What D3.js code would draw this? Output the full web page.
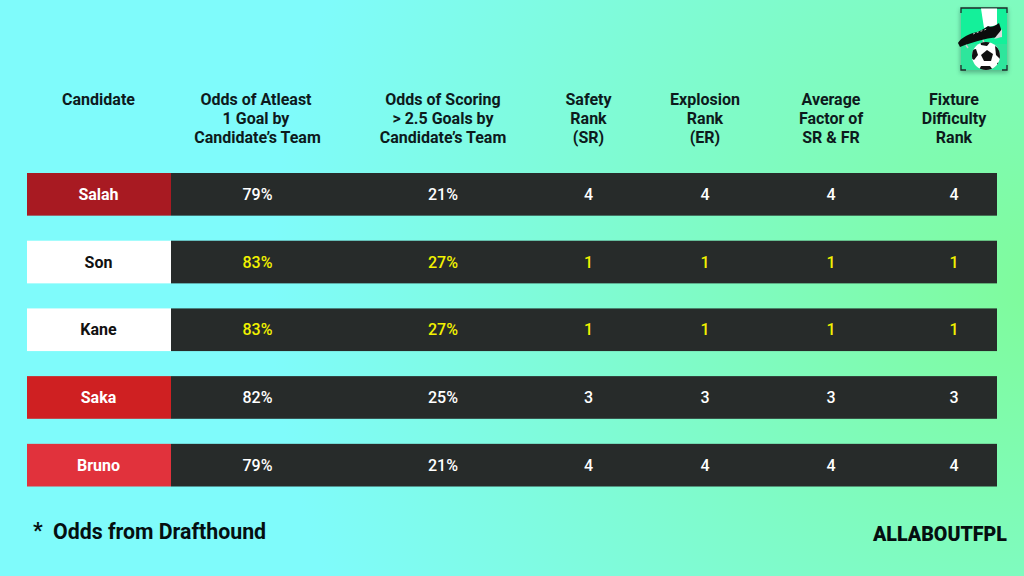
<!DOCTYPE html>
<html>
<head>
<meta charset="utf-8">
<script src="https://cdn.jsdelivr.net/npm/d3@7/dist/d3.min.js"></script>
<style>
	html, body { margin: 0; padding: 0; overflow: hidden; }
	svg { display: block; }
	text { font-family: Roboto, sans-serif; text-anchor: middle; }
</style>
</head>
<body>
<script>
const candidates = ['Salah', 'Son', 'Kane', 'Saka', 'Bruno'];
const candidateColors = ['#a81a22', '#ffffff', '#ffffff', '#cf2022', '#e1323c'];
const candidateText = ['#ffffff', '#111111', '#111111', '#ffffff', '#ffffff'];

const oneGoalOdds = [79, 83, 83, 82, 79];
const overGoalsOdds = [21, 27, 27, 25, 21];
const safetyRank = [4, 1, 1, 3, 4];
const explosionRank = [4, 1, 1, 3, 4];
const averageFactor = [4, 1, 1, 3, 4];
const fixtureRank = [4, 1, 1, 3, 4];

const columnKeys = ['candidate', 'oneGoal', 'overGoals', 'safety', 'explosion', 'average', 'fixture'];
const columnHeaders = [
	['Candidate'],
	['Odds of Atleast', '1 Goal by', 'Candidate\u2019s Team'],
	['Odds of Scoring', '> 2.5 Goals by', 'Candidate\u2019s Team'],
	['Safety', 'Rank', '(SR)'],
	['Explosion', 'Rank', '(ER)'],
	['Average', 'Factor of', 'SR & FR'],
	['Fixture', 'Difficulty', 'Rank']
];

const width = 1024;
const height = 576;
const highlight = '#f2f200';

const svg = d3.select('body').append('svg')
	.attr('width', width)
	.attr('height', height);

const defs = svg.append('defs');

// background, greenest around the right edge
const grad = defs.append('radialGradient')
	.attr('id', 'bg')
	.attr('gradientUnits', 'userSpaceOnUse')
	.attr('cx', 1040).attr('cy', 290)
	.attr('r', 770);
grad.append('stop').attr('offset', '0%').attr('stop-color', '#7ffb9b');
grad.append('stop').attr('offset', '100%').attr('stop-color', '#7ffbfb');

defs.append('filter').attr('id', 'soft')
	.append('feGaussianBlur').attr('stdDeviation', 2);

defs.append('clipPath').attr('id', 'ball')
	.append('circle').attr('cx', 25).attr('cy', 48).attr('r', 14);

svg.append('rect')
	.attr('width', width)
	.attr('height', height)
	.attr('fill', 'url(#bg)');

const y = d3.scaleBand()
	.domain(candidates)
	.range([173, 486.5])
	.paddingInner(0.37);

const x = d3.scaleOrdinal()
	.domain(columnKeys)
	.range([98.5, 257.5, 443, 588.5, 705, 831, 954]);

const tableLeft = 27;
const nameRight = 171;
const tableRight = 997;

// header
columnKeys.forEach((key, i) => {
	columnHeaders[i].forEach((line, j) => {
		// first two lines of this header sit a little left in the original
		const nudge = (key == 'oneGoal' && j < 2) ? -1.5 : 0;
		svg.append('text')
			.attr('x', x(key) + nudge)
			.attr('y', 105.4 + j * 18.7)
			.attr('font-size', 16)
			.attr('font-weight', 700)
			.attr('fill', '#0d1a1c')
			.text(line);
	});
});

// rows
candidates.forEach((name, i) => {
	const best = d3.max(oneGoalOdds) == oneGoalOdds[i];
	const cellColor = best ? highlight : '#ffffff';
	const mid = y(name) + y.bandwidth() / 2 + 5.7;

	svg.append('rect')
		.attr('x', nameRight)
		.attr('y', y(name))
		.attr('width', tableRight - nameRight)
		.attr('height', y.bandwidth())
		.attr('fill', '#272b2a');

	svg.append('rect')
		.attr('x', tableLeft)
		.attr('y', y(name))
		.attr('width', nameRight - tableLeft)
		.attr('height', y.bandwidth())
		.attr('fill', candidateColors[i]);

	svg.append('text')
		.attr('x', x('candidate'))
		.attr('y', mid)
		.attr('font-size', 16)
		.attr('font-weight', 700)
		.attr('fill', candidateText[i])
		.text(name);

	const cells = [
		['oneGoal', oneGoalOdds[i] + '%'],
		['overGoals', overGoalsOdds[i] + '%'],
		['safety', safetyRank[i]],
		['explosion', explosionRank[i]],
		['average', averageFactor[i]],
		['fixture', fixtureRank[i]]
	];

	cells.forEach(c => {
		svg.append('text')
			.attr('x', x(c[0]))
			.attr('y', mid)
			.attr('font-size', 16)
			.attr('font-weight', 500)
			.attr('fill', cellColor)
			.text(c[1]);
	});
});

// footnote
svg.append('text')
	.attr('x', 33)
	.attr('y', 538)
	.attr('font-size', 21.3)
	.attr('font-weight', 700)
	.attr('fill', '#050f10')
	.style('text-anchor', 'start')
	.text('*');

svg.append('text')
	.attr('x', 53)
	.attr('y', 539)
	.attr('font-size', 21.3)
	.attr('font-weight', 700)
	.attr('fill', '#050f10')
	.style('text-anchor', 'start')
	.text('Odds from Drafthound');

// brand
svg.append('text')
	.attr('x', 873)
	.attr('y', 541)
	.attr('font-size', 21)
	.attr('font-weight', 900)
	.attr('textLength', 134)
	.attr('lengthAdjust', 'spacingAndGlyphs')
	.attr('fill', '#050f10')
	.style('text-anchor', 'start')
	.text('ALLABOUTFPL');

// logo, top right
const logo = svg.append('g').attr('transform', 'translate(961,8)');
logo.append('rect').attr('x', -1).attr('y', 1).attr('width', 48).attr('height', 64)
	.attr('fill', '#2a6a55').attr('opacity', 0.45).attr('filter', 'url(#soft)');
logo.append('rect').attr('width', 46).attr('height', 62).attr('fill', '#14f09a');
logo.append('rect').attr('y', 36).attr('width', 46).attr('height', 26).attr('fill', '#2ee69c');
logo.append('path').attr('d', 'M0,5V0H46V5M0,57V62H5M41,62H46V57')
	.attr('fill', 'none').attr('stroke', '#1c2b2a').attr('stroke-width', 1.3);

logo.append('path').attr('d', 'M20,0.6H36L36,17L23,20Z').attr('fill', '#ffffff');
logo.append('path').attr('d', 'M-3,35C0,30 6,27 12,25C18,24 23,21 27,18C30,20 34,18 38,15L41,24L41,29C30,29 14,33 -1,39Z').attr('fill', '#0c0c0c');
logo.append('path').attr('d', 'M33,31L41,21L41,29Z').attr('fill', '#dcdcdc');
logo.append('path').attr('d', 'M12,26L26,21').attr('stroke', '#bbbbbb').attr('stroke-width', 1).attr('stroke-dasharray', '2,2').attr('fill', 'none');
logo.append('path').attr('d', 'M5,37L7,40M22,32L23,35').attr('stroke', '#cccccc').attr('stroke-width', 1.5);

logo.append('circle').attr('cx', 25).attr('cy', 48).attr('r', 14).attr('fill', '#ffffff');
const patches = logo.append('g').attr('clip-path', 'url(#ball)').attr('fill', '#111111');
patches.append('path').attr('d', 'M26,42L32,46L30,53H23L20,47Z');
patches.append('path').attr('d', 'M19,33L30,33L26,38L20,37Z');
patches.append('path').attr('d', 'M34,38L40,42L39,51L35,47Z');
patches.append('path').attr('d', 'M10,42L15,41L17,47L13,52L10,50Z');
patches.append('path').attr('d', 'M18,62L20,58H29L32,62Z');
patches.append('path').attr('d', 'M36,55L40,54L37,60Z');
</script>
</body>
</html>
